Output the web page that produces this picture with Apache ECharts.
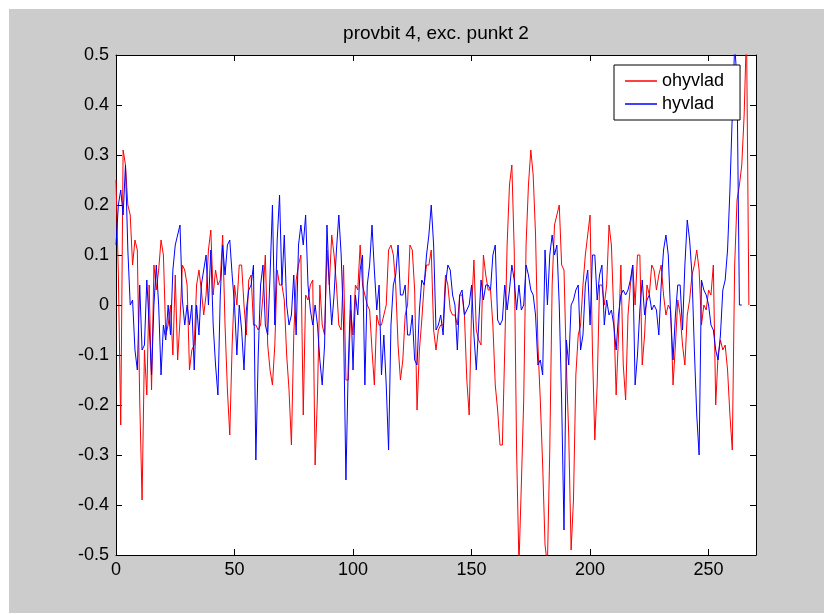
<!DOCTYPE html>
<html>
<head>
<meta charset="utf-8">
<script src="https://cdn.jsdelivr.net/npm/echarts@6/dist/echarts.min.js"></script>
<style>
html,body{margin:0;padding:0;background:#ffffff;}
#chart{position:absolute;left:9px;top:9px;width:815px;height:604px;background:#cccccc;}
</style>
</head>
<body>
<div id="chart"></div>
<script>
const titleText = "provbit 4, exc. punkt 2";
const seriesNames = ["ohyvlad", "hyvlad"];
const xTicks = [0, 50, 100, 150, 200, 250];
const yTicks = [-0.5, -0.4, -0.3, -0.2, -0.1, 0, 0.1, 0.2, 0.3, 0.4, 0.5];

// ohyvlad (red), sample index 0..
const ohyvlad = [
 0.25, 0.06, -0.24, 0.31, 0.28, 0.2, 0.18, 0.08, 0.13, 0.11,
 -0.19, -0.39, -0.09, -0.18, 0.04, -0.17, 0.08, 0.03, 0.07, 0.13,
 0.1, -0.06, -0.04, 0.0, -0.1, 0.06, -0.11, -0.03, 0.08, 0.07,
 0.04, -0.13, -0.09, -0.08, 0.04, 0.07, 0.03, -0.02, 0.02, 0.11,
 0.15, 0.02, 0.07, 0.04, 0.05, 0.14, -0.04, -0.17, -0.26, -0.08,
 0.04, 0.0, 0.08, 0.08, 0.0, -0.06, 0.05, 0.06, -0.04, -0.04,
 -0.05, -0.04, 0.02, 0.1, -0.08, -0.13, -0.16, -0.08, 0.07, 0.04,
 0.04, 0.01, -0.1, -0.17, -0.28, -0.06, 0.05, 0.08, 0.1, -0.22,
 0.02, 0.01, 0.04, 0.05, -0.32, -0.18, 0.04, -0.04, -0.06, 0.11,
 0.04, 0.14, 0.1, 0.04, -0.04, -0.05, 0.08, -0.15, -0.15, -0.01,
 -0.06, 0.04, 0.03, 0.12, 0.04, 0.02, 0.0, -0.01, -0.09, -0.16,
 -0.02, -0.04, -0.04, -0.02, 0.0, 0.11, 0.12, 0.1, 0.04, -0.08,
 -0.15, -0.11, -0.02, 0.0, 0.12, 0.11, 0.03, -0.21, -0.09, -0.03,
 0.04, 0.08, 0.08, 0.11, -0.05, -0.09, -0.05, -0.04, -0.04, 0.06,
 0.04, -0.01, -0.02, -0.02, -0.04, 0.02, 0.02, -0.02, -0.15, -0.22,
 -0.01, 0.09, -0.05, -0.07, -0.08, 0.1, 0.06, 0.03, 0.03, -0.04,
 -0.16, -0.21, -0.28, -0.28, -0.09, 0.12, 0.24, 0.28, 0.11, -0.29,
 -0.52, -0.36, -0.19, 0.12, 0.24, 0.31, 0.26, 0.14, -0.08, -0.19,
 -0.32, -0.48, -0.52, -0.29, 0.04, 0.16, 0.18, 0.2, 0.08, 0.07,
 -0.12, -0.26, -0.49, -0.39, -0.14, -0.06, -0.04, 0.04, 0.1, 0.14,
 0.18, -0.09, -0.27, -0.16, 0.04, 0.04, 0.0, 0.04, 0.16, 0.12,
 -0.02, -0.18, -0.06, 0.08, -0.12, -0.19, -0.02, 0.04, 0.08, 0.0,
 0.1, 0.1, -0.12, -0.06, 0.04, 0.02, 0.08, 0.07, 0.03, 0.06,
 0.08, 0.02, -0.02, 0.0, -0.01, -0.16, -0.08, 0.01, -0.02, -0.08,
 -0.12, -0.02, 0.01, 0.06, 0.08, 0.11, 0.07, -0.04, 0.0, -0.01,
 0.03, 0.02, 0.08, -0.2, -0.1, -0.07, -0.09, -0.08, -0.13, -0.22,
 -0.29, 0.08, 0.21, 0.24, 0.28, 0.38, 0.55, 0.0
];

// hyvlad (blue), sample index 0..
const hyvlad = [
 0.12, 0.2, 0.23, 0.18, 0.28, 0.11, 0.0, 0.01, -0.09, -0.13,
 0.04, -0.09, -0.08, 0.05, -0.04, -0.14, 0.0, 0.08, 0.0, -0.14,
 -0.04, -0.07, 0.0, -0.06, 0.07, 0.12, 0.14, 0.16, 0.01, -0.04,
 0.0, -0.04, 0.0, -0.13, 0.0, -0.06, 0.04, 0.07, 0.1, 0.0,
 0.11, -0.04, -0.12, -0.18, 0.02, 0.12, 0.06, 0.12, 0.13, 0.06,
 0.0, -0.1, 0.0, -0.05, -0.13, -0.01, 0.03, 0.04, 0.08, -0.31,
 -0.1, 0.04, 0.08, -0.04, -0.06, 0.06, 0.2, -0.04, 0.13, 0.22,
 0.04, 0.14, 0.0, -0.04, -0.02, 0.06, -0.06, 0.12, 0.16, 0.12,
 0.18, 0.04, -0.01, -0.04, 0.0, -0.04, -0.11, -0.16, -0.08, 0.16,
 0.04, -0.04, 0.02, 0.11, 0.18, 0.1, -0.04, -0.35, -0.12, 0.02,
 -0.13, 0.02, -0.02, 0.07, 0.1, -0.16, 0.04, 0.08, 0.16, 0.07,
 -0.01, 0.04, -0.14, -0.06, -0.16, -0.29, -0.04, 0.04, 0.06, 0.12,
 0.02, 0.02, 0.04, -0.06, -0.06, -0.02, -0.11, -0.12, -0.01, 0.05,
 0.04, 0.1, 0.14, 0.2, 0.12, -0.05, -0.04, -0.02, -0.06, 0.04,
 0.08, 0.07, 0.02, 0.0, -0.09, 0.02, 0.03, -0.02, -0.01, 0.0,
 0.04, -0.06, -0.13, -0.04, 0.05, 0.01, 0.04, 0.04, 0.03, 0.1,
 0.12, -0.03, -0.04, -0.03, 0.04, -0.01, 0.03, 0.08, 0.05, -0.01,
 0.04, -0.01, 0.0, 0.08, 0.06, 0.03, 0.02, -0.02, -0.12, -0.11,
 -0.14, 0.11, 0.0, 0.1, 0.14, 0.1, 0.12, 0.0, -0.19, -0.45,
 -0.07, -0.12, 0.0, 0.01, 0.03, 0.04, -0.09, -0.06, 0.04, 0.07,
 -0.04, 0.1, 0.1, 0.01, 0.06, 0.08, -0.04, 0.01, -0.02, -0.01,
 -0.04, -0.09, -0.02, 0.02, 0.03, 0.02, 0.03, 0.05, 0.08, -0.16,
 -0.1, -0.01, 0.05, -0.02, 0.01, 0.02, -0.01, 0.0, -0.01, -0.06,
 0.04, 0.11, 0.14, 0.1, -0.02, -0.11, -0.02, 0.04, 0.04, -0.05,
 0.08, 0.17, 0.13, 0.06, -0.09, -0.22, -0.3, 0.05, 0.03, 0.02,
 0.0, -0.04, -0.05, -0.09, -0.11, -0.06, 0.03, 0.05, 0.11, 0.23,
 0.38, 0.52, 0.45, 0.0, 0.0
];

const FONT = "'Liberation Sans', Arial, Helvetica, sans-serif";
const toPairs = arr => arr.map((v, i) => [i, v]);

const chart = echarts.init(document.getElementById('chart'), null, {renderer: 'canvas'});

const lineCommon = {show: true, onZero: false, lineStyle: {color: '#000', width: 1}};
const tickCommon = {show: true, inside: true, length: 6, lineStyle: {color: '#000', width: 1}};

chart.setOption({
  backgroundColor: 'transparent',
  animation: false,
  title: {
    text: titleText,
    left: 427, top: 15, textAlign: 'center', padding: 0,
    textStyle: {fontFamily: FONT, fontSize: 19, fontWeight: 'normal', color: '#000'}
  },
  legend: {
    data: seriesNames,
    orient: 'vertical',
    left: 605, top: 56,
    padding: [7, 16, 7, 11],
    itemGap: 5,
    itemWidth: 32, itemHeight: 1.5,
    itemTextGap: 13,
    icon: 'rect',
    backgroundColor: '#fff',
    borderColor: '#000', borderWidth: 1, borderRadius: 0,
    textStyle: {fontFamily: FONT, fontSize: 18, color: '#000'}
  },
  grid: {left: 107, top: 46, right: 68, bottom: 58, containLabel: false,
         show: true, backgroundColor: '#fff', borderWidth: 0},
  xAxis: [
    {
      type: 'value', position: 'bottom', min: 0, max: 270,
      axisLine: lineCommon,
      axisTick: Object.assign({}, tickCommon, {customValues: xTicks}),
      axisLabel: {show: true, margin: 6, color: '#000', fontFamily: FONT, fontSize: 18,
        customValues: xTicks},
      splitLine: {show: false}
    },
    {
      type: 'value', position: 'top', min: 0, max: 270,
      axisLine: lineCommon,
      axisTick: Object.assign({}, tickCommon, {customValues: xTicks}),
      axisLabel: {show: false},
      splitLine: {show: false}
    }
  ],
  yAxis: [
    {
      type: 'value', position: 'left', min: -0.5, max: 0.5, interval: 0.1,
      axisLine: lineCommon,
      axisTick: Object.assign({}, tickCommon, {customValues: yTicks}),
      axisLabel: {show: true, margin: 7, color: '#000', fontFamily: FONT, fontSize: 18,
        customValues: yTicks,
        formatter: v => (Math.round(v * 10) / 10).toString()},
      splitLine: {show: false}
    },
    {
      type: 'value', position: 'right', min: -0.5, max: 0.5, interval: 0.1,
      axisLine: lineCommon,
      axisTick: Object.assign({}, tickCommon, {customValues: yTicks}),
      axisLabel: {show: false},
      splitLine: {show: false}
    }
  ],
  series: [
    {
      name: seriesNames[0], type: 'line', data: toPairs(ohyvlad),
      xAxisIndex: 0, yAxisIndex: 0,
      showSymbol: false, symbol: 'none', clip: true, z: 2,
      lineStyle: {color: '#ff0000', width: 1}, itemStyle: {color: '#ff0000'}
    },
    {
      name: seriesNames[1], type: 'line', data: toPairs(hyvlad),
      xAxisIndex: 0, yAxisIndex: 0,
      showSymbol: false, symbol: 'none', clip: true, z: 3,
      lineStyle: {color: '#0000ff', width: 1}, itemStyle: {color: '#0000ff'}
    }
  ]
});
</script>
</body>
</html>
